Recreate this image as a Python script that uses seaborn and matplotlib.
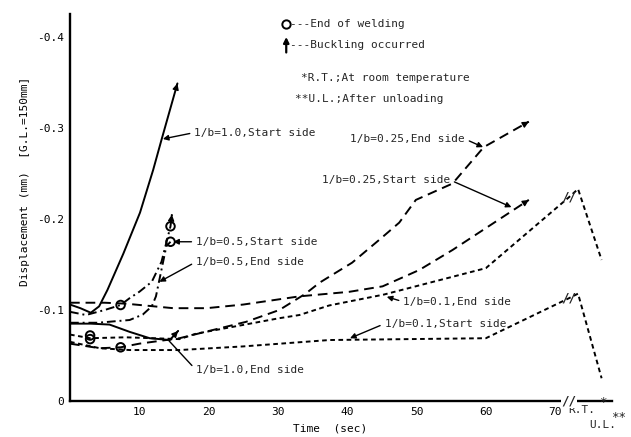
import numpy as np
import pandas as pd
import matplotlib
matplotlib.use("Agg")
import matplotlib.pyplot as plt
import seaborn as sns

# ---------------- data ----------------
t_10_start = [0, 1.5, 3.0, 4.2, 5.4, 7.7, 10.1, 12.0, 13.2, 15.5]
d_10_start = [-0.106, -0.102, -0.097, -0.104, -0.122, -0.162, -0.207, -0.254, -0.287, -0.349]

t_10_end = [0, 3, 5.7, 8.6, 11.5, 14.4, 15.6]
d_10_end = [-0.085, -0.085, -0.084, -0.076, -0.069, -0.067, -0.077]

t_05_end = [0, 4, 8.6, 10.5, 11.8, 12.4, 13.9, 14.5]
d_05_end = [-0.086, -0.086, -0.089, -0.095, -0.104, -0.115, -0.170, -0.175]

t_05_start = [0, 2.3, 5, 7.3, 8.6, 10, 11.8, 13.2, 14.5, 14.7]
d_05_start = [-0.098, -0.0945, -0.100, -0.1055, -0.113, -0.120, -0.131, -0.153, -0.192, -0.205]

t_025_end = [0, 4.3, 7.3, 10, 15.8, 20.6, 25.4, 30.2, 34, 36, 40.7, 44.6, 47.5, 49.9, 55.2, 59.7, 66.2]
d_025_end = [-0.063, -0.058, -0.059, -0.063, -0.069, -0.078, -0.087, -0.100, -0.118, -0.130,
             -0.152, -0.177, -0.196, -0.221, -0.239, -0.279, -0.307]

t_025_start = [0, 5, 8, 14.9, 19.7, 25, 33.1, 40.3, 45.1, 50.4, 55.2, 60.4, 66.2]
d_025_start = [-0.108, -0.108, -0.107, -0.102, -0.102, -0.106, -0.115, -0.120, -0.126,
               -0.144, -0.166, -0.192, -0.221]

t_01_end = [0, 2.9, 8, 15.8, 18.2, 30.2, 33.1, 37.4, 45.3, 60, 72.0, 73.3, 76.7]
d_01_end = [-0.073, -0.069, -0.070, -0.068, -0.074, -0.091, -0.0945, -0.105, -0.117,
            -0.146, -0.224, -0.233, -0.155]

t_01_start = [0, 4.3, 8.6, 15.8, 25, 37.4, 60, 72.0, 73.3, 76.7]
d_01_start = [-0.065, -0.058, -0.056, -0.056, -0.060, -0.067, -0.069, -0.113, -0.118, -0.025]

# end-of-welding circles
circ_t = [2.9, 2.9, 7.3, 7.3, 14.5, 14.5]
circ_d = [-0.068, -0.072, -0.1055, -0.059, -0.175, -0.192]

x_ticks = [10, 20, 30, 40, 50, 60, 70]
x_tick_labels = ["10", "20", "30", "40", "50", "60", "70"]
rt_t, ul_t = 73.3, 76.7
y_ticks = [0, -0.1, -0.2, -0.3, -0.4]
y_tick_labels = ["0", "-0.1", "-0.2", "-0.3", "-0.4"]

curves = [
    ("1/b=1.0,Start side", t_10_start, d_10_start),
    ("1/b=1.0,End side", t_10_end, d_10_end),
    ("1/b=0.5,End side", t_05_end, d_05_end),
    ("1/b=0.5,Start side", t_05_start, d_05_start),
    ("1/b=0.25,End side", t_025_end, d_025_end),
    ("1/b=0.25,Start side", t_025_start, d_025_start),
    ("1/b=0.1,End side", t_01_end, d_01_end),
    ("1/b=0.1,Start side", t_01_start, d_01_start),
]
df = pd.concat([pd.DataFrame({"t": t, "d": d, "curve": n}) for n, t, d in curves],
               ignore_index=True)

dash_map = {
    "1/b=1.0,Start side": "",
    "1/b=1.0,End side": "",
    "1/b=0.5,End side": (4.5, 2.0, 1.0, 2.0),
    "1/b=0.5,Start side": (4.5, 2.0, 1.0, 2.0),
    "1/b=0.25,End side": (5.0, 3.0),
    "1/b=0.25,Start side": (5.0, 3.0),
    "1/b=0.1,End side": (2.4, 1.8),
    "1/b=0.1,Start side": (2.4, 1.8),
}

# ---------------- style ----------------
sns.set_theme(style="white")
plt.rcParams["font.family"] = ["DejaVu Sans Mono", "DejaVu Sans"]
FS = 8

fig = plt.figure(figsize=(6.31, 4.37), dpi=100)
ax = fig.add_axes([70 / 631, 36 / 437, 542 / 631, 387 / 437])

sns.lineplot(data=df, x="t", y="d", hue="curve", style="curve",
             palette={n: "black" for n, _, _ in curves}, dashes=dash_map,
             sort=False, estimator=None, legend=False, linewidth=1.4, ax=ax)

sns.scatterplot(x=circ_t, y=circ_d, marker="o", s=38, facecolors="none",
                edgecolor="black", linewidth=1.4, ax=ax, zorder=5)

# buckling arrows at curve ends
for name in ["1/b=1.0,Start side", "1/b=1.0,End side", "1/b=0.5,Start side",
             "1/b=0.25,End side", "1/b=0.25,Start side"]:
    t, d = next((tt, dd) for n, tt, dd in curves if n == name)
    x1, y1 = t[-1], d[-1]
    x0, y0 = t[-2], d[-2]
    ax.annotate("", xy=(x1, y1), xytext=(x1 - 0.02 * (x1 - x0), y1 - 0.02 * (y1 - y0)),
                arrowprops=dict(arrowstyle="-|>", color="black", lw=1.0,
                                mutation_scale=9, shrinkA=0, shrinkB=0))

ax.set_xlim(0, 78.2)
ax.set_ylim(0, -0.4253)
ax.set_xticks(x_ticks + [rt_t, ul_t])
ax.set_xticklabels(x_tick_labels + ["", ""])
ax.set_yticks(y_ticks)
ax.set_yticklabels(y_tick_labels)
ax.tick_params(direction="in", length=4, width=1.2, labelsize=FS, colors="black", pad=4)
for s in ["top", "right"]:
    ax.spines[s].set_visible(False)
for s in ["left", "bottom"]:
    ax.spines[s].set_linewidth(1.7)
    ax.spines[s].set_color("black")

ax.set_xlabel("Time  (sec)", fontsize=FS, color="black")
ax.xaxis.set_label_coords(0.48, -0.058)
ax.set_ylabel("Displacement (mm)  [G.L.=150mm]", fontsize=FS, color="black")
ax.yaxis.set_label_coords(-0.074, 0.568)

# special x labels
ax.text(73.9, 0.0099, "R.T.", fontsize=FS, ha="center", va="center", clip_on=False)
ax.text(76.8, 0.002, "*", fontsize=FS + 1, ha="center", va="center", clip_on=False)
ax.text(76.9, 0.026, "U.L.", fontsize=FS, ha="center", va="center", clip_on=False)
ax.text(79.2, 0.0176, "**", fontsize=FS + 1, ha="center", va="center", clip_on=False)

# break marks
ax.text(72.0, 0.0, "//", fontsize=9, fontweight="bold", ha="center", va="center",
        clip_on=False, bbox=dict(facecolor="white", edgecolor="none", pad=0.2))
ax.text(t_01_end[-3], d_01_end[-3], "//", fontsize=9, fontweight="bold",
        ha="center", va="center")
ax.text(t_01_start[-3], d_01_start[-3], "//", fontsize=9, fontweight="bold",
        ha="center", va="center")

# annotations
arrow_kw = dict(arrowstyle="-|>", color="black", lw=1.0, mutation_scale=8, shrinkA=1, shrinkB=0)
line_kw = dict(arrowstyle="-", color="black", lw=1.0, shrinkA=1, shrinkB=0)
ann = [
    ("1/b=1.0,Start side", (17.95, -0.295), (13.4, -0.288), "left", arrow_kw),
    ("1/b=0.25,End side", (40.4, -0.288), (59.6, -0.279), "right", arrow_kw),
    ("1/b=0.25,Start side", (36.3, -0.243), (63.7, -0.213), "right", arrow_kw),
    ("1/b=0.5,Start side", (18.2, -0.175), (14.9, -0.175), "left", arrow_kw),
    ("1/b=0.5,End side", (18.2, -0.153), (12.9, -0.131), "left", arrow_kw),
    ("1/b=1.0,End side", (18.2, -0.034), (14.3, -0.066), "left", line_kw),
    ("1/b=0.1,End side", (48.1, -0.109), (45.7, -0.1145), "left", arrow_kw),
    ("1/b=0.1,Start side", (45.4, -0.085), (40.4, -0.069), "left", arrow_kw),
]
for txt, pos, tgt, side, kw in ann:
    rel = (0, 0.5) if side == "left" else (1, 0.5)
    ax.annotate(txt, xy=tgt, xytext=pos, fontsize=FS, ha="left", va="center",
                arrowprops=dict(kw, relpos=rel))

# legend-like notes
ax.plot([31.1], [-0.414], marker="o", markersize=6, mfc="none", mec="black", mew=1.4,
        clip_on=False)
ax.text(31.8, -0.414, "---End of welding", fontsize=FS, ha="left", va="center")
ax.annotate("", xy=(31.2, -0.400), xytext=(31.2, -0.383),
            arrowprops=dict(arrowstyle="-|>", color="black", lw=1.6, mutation_scale=8,
                            shrinkA=0, shrinkB=0))
ax.text(31.8, -0.391, "---Buckling occurred", fontsize=FS, ha="left", va="center")
ax.text(33.4, -0.355, "*R.T.;At room temperature", fontsize=FS, ha="left", va="center")
ax.text(32.4, -0.332, "**U.L.;After unloading", fontsize=FS, ha="left", va="center")

fig.savefig("out.png", dpi=100, facecolor="white")
